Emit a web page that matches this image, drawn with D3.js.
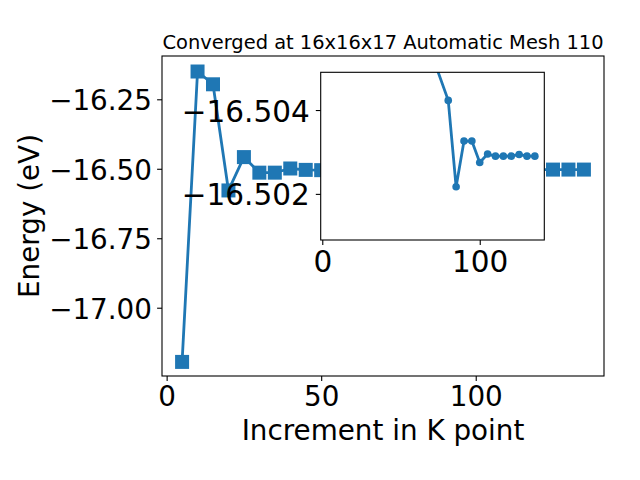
<!DOCTYPE html>
<html>
<head>
  <title>Converged at 16x16x17 Automatic Mesh 110</title>
  <meta charset="utf-8">
  <script src="https://d3js.org/d3.v7.min.js"></script>
</head>
<body>
  <svg height="480" width="640" style="background-color:#FFFFFF"></svg>

<script>
// k point increments and total energies
var kPoints = [5, 10, 15, 20, 25, 30, 35, 40, 45, 50, 55, 60, 65, 70,
               80, 85, 90, 95, 100, 105, 110, 115, 120, 125, 130, 135];
var energies = [-17.195, -16.150, -16.196, -16.578, -16.458, -16.514, -16.514, -16.499, -16.504,
                -16.505, -16.505, -16.506, -16.505, -16.50528,
                -16.50423, -16.50217, -16.50326, -16.50326, -16.50275, -16.50295,
                -16.50290, -16.50290, -16.50290, -16.50294, -16.50290, -16.50290];

// the zoomed inset only shows the tail of the run
var insetFromK = 70;

var mainXTicks = [0, 50, 100];
var mainYTicks = [-17.00, -16.75, -16.50, -16.25];
var insetXTicks = [0, 100];
var insetYTicks = [-16.504, -16.502];

var titleText = "Converged at 16x16x17 Automatic Mesh 110";
var xLabel = "Increment in K point";
var yLabel = "Energy (eV)";

var blue = "#1f77b4";
var font = "DejaVu Sans, sans-serif";

var svg = d3.select("svg");
var data = kPoints.map(function (k, i) { return {k: k, e: energies[i]}; });
var insetData = data.filter(function (d) { return d.k >= insetFromK; });

// main axes box: 162..604 x 56..376
var xScale = d3.scaleLinear().domain([-1.5, 141.5]).range([162, 604]);
var yScale = d3.scaleLinear().domain([-17.2457, -16.0942]).range([376, 56]);

// inset box: 320.7..544.3 x 72.3..240, y axis runs downward
var ixScale = d3.scaleLinear().domain([-1, 141]).range([320.7, 544.3]);
var iyScale = d3.scaleLinear().domain([-16.5049, -16.5009]).range([72.3, 240]);

function styleAxis(g, size) {
  g.select(".domain").remove();
  g.selectAll(".tick line").attr("stroke", "#000").attr("stroke-width", 1.1);
  g.selectAll(".tick text").attr("fill", "#000")
    .style("font-family", font).style("font-size", size);
}

// main ticks
svg.append("g").attr("transform", "translate(0,376)")
  .call(d3.axisBottom(xScale).tickValues(mainXTicks).tickSize(4.9).tickFormat(d3.format("d")))
  .call(styleAxis, "27.8px")
  .call(function (g) { g.selectAll(".tick text").attr("y", 30).attr("dy", null); });

svg.append("g").attr("transform", "translate(162,0)")
  .call(d3.axisLeft(yScale).tickValues(mainYTicks).tickSize(4.9).tickFormat(d3.format(".2f")))
  .call(styleAxis, "27.8px")
  .call(function (g) { g.selectAll(".tick text").attr("x", -10).attr("dy", 10.5); });

// main line + square markers
var line = d3.line().x(function (d) { return xScale(d.k); }).y(function (d) { return yScale(d.e); });

svg.append("path").datum(data)
  .attr("d", line)
  .attr("fill", "none")
  .attr("stroke", blue)
  .attr("stroke-width", 2.8)
  .attr("stroke-linejoin", "round");

svg.selectAll(".sq").data(data).enter().append("rect")
  .attr("class", "sq")
  .attr("x", function (d) { return xScale(d.k) - 7; })
  .attr("y", function (d) { return yScale(d.e) - 7; })
  .attr("width", 14)
  .attr("height", 14)
  .attr("fill", blue);

// main frame
svg.append("rect")
  .attr("x", 162).attr("y", 56).attr("width", 442).attr("height", 320)
  .attr("fill", "none").attr("stroke", "#000").attr("stroke-width", 1.1);

// title and labels
svg.append("text")
  .attr("x", 383).attr("y", 49)
  .attr("text-anchor", "middle")
  .style("font-family", font).style("font-size", "19.44px")
  .text(titleText);

svg.append("text")
  .attr("x", 383).attr("y", 440)
  .attr("text-anchor", "middle")
  .style("font-family", font).style("font-size", "27.8px")
  .text(xLabel);

svg.append("text")
  .attr("transform", "translate(38.5,216) rotate(-90)")
  .attr("text-anchor", "middle")
  .style("font-family", font).style("font-size", "27.8px")
  .text(yLabel);

// inset: white background covers the main plot
svg.append("rect")
  .attr("x", 320.7).attr("y", 72.3).attr("width", 223.6).attr("height", 167.7)
  .attr("fill", "#fff");

svg.append("clipPath").attr("id", "insetClip")
  .append("rect")
  .attr("x", 320.7).attr("y", 72.3).attr("width", 223.6).attr("height", 167.7);

var inset = svg.append("g").attr("clip-path", "url(#insetClip)");

var iline = d3.line().x(function (d) { return ixScale(d.k); }).y(function (d) { return iyScale(d.e); });

inset.append("path").datum(insetData)
  .attr("d", iline)
  .attr("fill", "none")
  .attr("stroke", blue)
  .attr("stroke-width", 2.8)
  .attr("stroke-linejoin", "round");

inset.selectAll(".dot").data(insetData).enter().append("circle")
  .attr("class", "dot")
  .attr("cx", function (d) { return ixScale(d.k); })
  .attr("cy", function (d) { return iyScale(d.e); })
  .attr("r", 3.8)
  .attr("fill", blue);

svg.append("g").attr("transform", "translate(0,240)")
  .call(d3.axisBottom(ixScale).tickValues(insetXTicks).tickSize(4.9).tickFormat(d3.format("d")))
  .call(styleAxis, "29.5px")
  .call(function (g) { g.selectAll(".tick text").attr("y", 32).attr("dy", null); });

svg.append("g").attr("transform", "translate(320.7,0)")
  .call(d3.axisLeft(iyScale).tickValues(insetYTicks).tickSize(4.9).tickFormat(d3.format(".3f")))
  .call(styleAxis, "29.5px")
  .call(function (g) { g.selectAll(".tick text").attr("x", -11).attr("dy", 11); });

svg.append("rect")
  .attr("x", 320.7).attr("y", 72.3).attr("width", 223.6).attr("height", 167.7)
  .attr("fill", "none").attr("stroke", "#000").attr("stroke-width", 1.1);
</script>

<style>
body {
  margin: 0;
}
svg {
  display: block;
}
</style>
</body>
</html>
